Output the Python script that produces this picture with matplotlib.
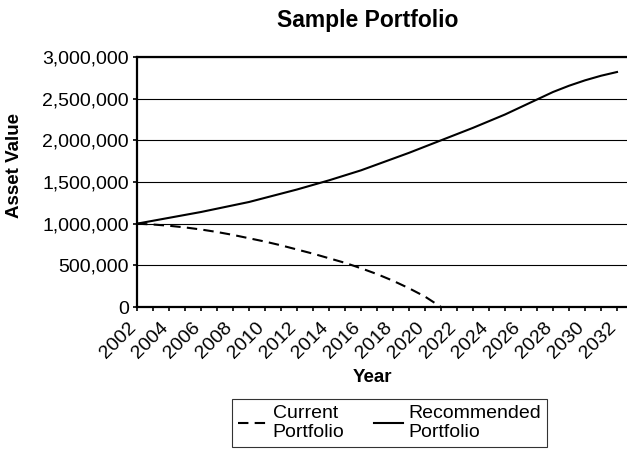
import numpy as np
import matplotlib.pyplot as plt
from matplotlib.ticker import FuncFormatter

plt.rcParams['font.family'] = ['Liberation Sans', 'DejaVu Sans']

# Data (values in millions of dollars)
years = list(range(2002, 2033))
recommended = [1.00, 1.035, 1.07, 1.105, 1.14, 1.18, 1.22, 1.26, 1.31, 1.36,
               1.41, 1.465, 1.52, 1.58, 1.64, 1.71, 1.78, 1.85, 1.925, 2.00,
               2.075, 2.15, 2.23, 2.31, 2.40, 2.49, 2.58, 2.655, 2.72, 2.775, 2.82]
current_years = list(range(2002, 2022))
current = [1.00, 0.99, 0.975, 0.955, 0.93, 0.90, 0.865, 0.825, 0.785, 0.74,
           0.69, 0.64, 0.585, 0.53, 0.465, 0.395, 0.315, 0.225, 0.125, 0.00]
recommended = [v * 1e6 for v in recommended]
current = [v * 1e6 for v in current]

W, H = 627, 450
fig = plt.figure(figsize=(W / 100, H / 100), dpi=100)
ax = fig.add_axes([137 / W, 1 - 307 / H, (627 - 137) / W, 250 / H])

fs = 14
ax.plot(current_years, current, color='black', lw=1.5, dashes=(5, 3),
        label='Current\nPortfolio')
ax.plot(years, recommended, color='black', lw=1.5, label='Recommended\nPortfolio')

ax.set_xlim(2002, 2002 + 490 / 16)
ax.set_ylim(0, 3_000_000)
ax.set_yticks(np.arange(0, 3_000_001, 500_000))
ax.yaxis.set_major_formatter(FuncFormatter(lambda v, p: f'{int(v):,}'))
ax.grid(axis='y', color='black', lw=0.8)
ax.set_axisbelow(True)

ax.set_xticks(years)
ax.set_xticklabels([str(y) if y % 2 == 0 else '' for y in years],
                   rotation=45, ha='right', va='baseline', rotation_mode='anchor')
ax.tick_params(axis='both', direction='out', length=3, width=1.2,
               labelsize=fs, colors='black')
ax.tick_params(axis='x', pad=12)
ax.tick_params(axis='y', pad=3)

for s in ['left', 'bottom', 'top']:
    ax.spines[s].set_linewidth(1.6)
ax.spines['right'].set_visible(False)

fig.text(368 / W, 1 - 20 / H, 'Sample Portfolio', ha='center', va='center',
         fontsize=16.5, fontweight='bold')
fig.text(15 / W, 1 - 165 / H, 'Asset Value', ha='center', va='center',
         rotation=90, fontsize=13.5, fontweight='bold')
fig.text(372 / W, 1 - 377 / H, 'Year', ha='center', va='center',
         fontsize=13.5, fontweight='bold')

leg = fig.legend(loc='upper left', bbox_to_anchor=(232 / W, 1 - 399 / H),
                 ncol=2, fontsize=fs, frameon=True, fancybox=False,
                 handlelength=1.5, handletextpad=0.3, columnspacing=1.5,
                 borderpad=0.3, borderaxespad=0)
leg.get_frame().set_edgecolor('black')
leg.get_frame().set_linewidth(0.8)

fig.savefig('out.png', dpi=100)
